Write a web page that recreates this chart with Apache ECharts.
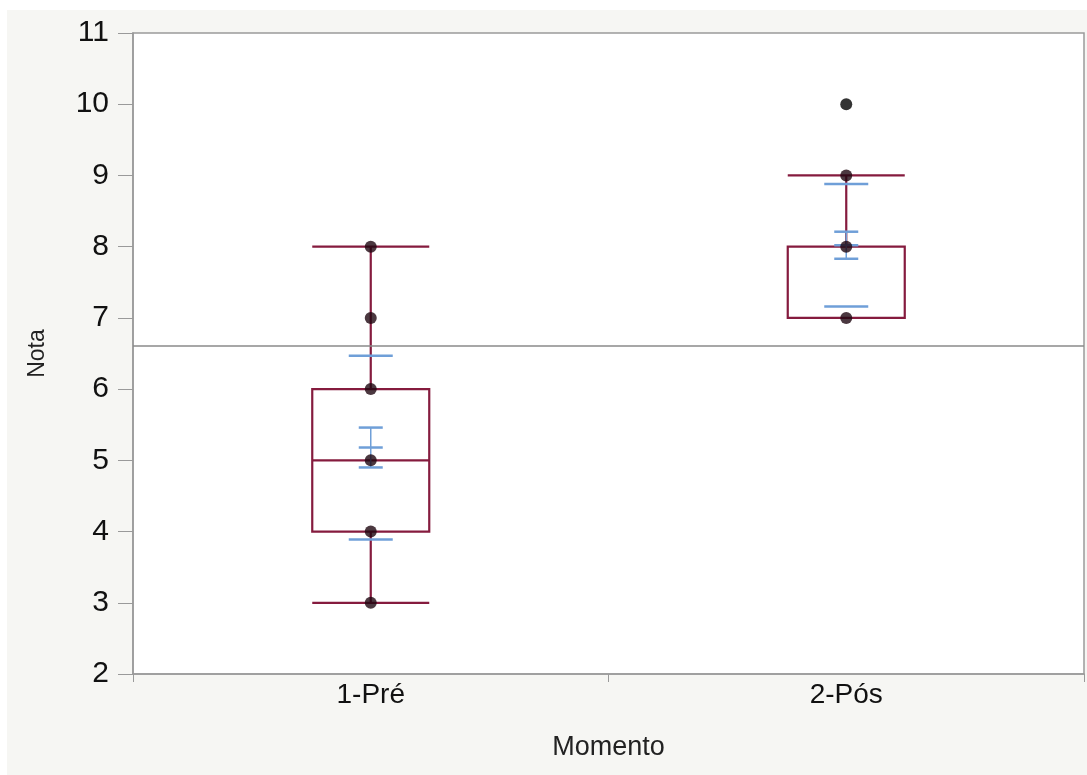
<!DOCTYPE html>
<html>
<head>
<meta charset="utf-8">
<script src="https://cdn.jsdelivr.net/npm/echarts@6/dist/echarts.min.js"></script>
<style>
html,body{margin:0;padding:0;background:#fff;}
#chart{width:1087px;height:775px;}
</style>
</head>
<body>
<div id="chart"></div>
<script>
var categories = ['1-Pré', '2-Pós'];
// [min, Q1, median, Q3, max]
var boxStats = [[3, 4, 5, 6, 8], [7, 7, 8, 8, 9]];
var pointsPre = [3, 4, 5, 6, 7, 8];
var pointsPos = [7, 8, 9];
var outliersPos = [10];
var means = [5.18, 8.02];
var stdErr = [0.28, 0.19];
var stdDev = [1.29, 0.86];
var grandMean = 6.61;
var yTicks = [2, 3, 4, 5, 6, 7, 8, 9, 10, 11];

var myChart = echarts.init(document.getElementById('chart'));

var pointData = [];
pointsPre.forEach(function (v) { pointData.push([0, v]); });
pointsPos.forEach(function (v) { pointData.push([1, v]); });
var outlierData = outliersPos.map(function (v) { return [1, v]; });

var meanData = means.map(function (m, i) {
    return [i, m, stdErr[i], stdDev[i]];
});

var boxColor = '#851b3e';
var blue = '#6f9fd8';

option = {
    backgroundColor: '#fff',
    animation: false,
    graphic: [{
        type: 'rect',
        z: -10,
        shape: {x: 7, y: 10, width: 1080, height: 765},
        style: {fill: '#f6f6f3'}
    }],
    grid: {
        left: 133, top: 33, right: 3, bottom: 101,
        show: true,
        backgroundColor: '#ffffff',
        borderColor: '#9a9a9a',
        borderWidth: 1.5
    },
    xAxis: {
        type: 'category',
        data: categories,
        name: 'Momento',
        nameLocation: 'middle',
        nameGap: 60,
        nameTextStyle: {fontFamily: 'Liberation Sans', fontSize: 27, color: '#222'},
        axisLine: {lineStyle: {color: '#9a9a9a', width: 1.5}},
        axisTick: {show: true, length: 8, lineStyle: {color: '#9a9a9a'}},
        axisLabel: {fontFamily: 'Liberation Sans', fontSize: 28, color: '#111', margin: 7}
    },
    yAxis: {
        type: 'value',
        min: 2, max: 11, interval: 1,
        name: 'Nota',
        nameLocation: 'middle',
        nameGap: 84,
        nameRotate: 90,
        nameTextStyle: {fontFamily: 'Liberation Sans', fontSize: 23, color: '#222'},
        axisLine: {show: true, lineStyle: {color: '#9a9a9a', width: 1.5}},
        axisTick: {show: true, length: 15, lineStyle: {color: '#9a9a9a'}},
        splitLine: {show: false},
        axisLabel: {
            fontFamily: 'Liberation Sans', fontSize: 30, color: '#111', margin: 24,
            formatter: function (v) { return yTicks.indexOf(v) >= 0 ? String(v) : ''; }
        }
    },
    series: [
        {
            name: 'box',
            type: 'boxplot',
            data: boxStats,
            boxWidth: [117, 117],
            itemStyle: {color: 'rgba(255,255,255,0)', borderColor: boxColor, borderWidth: 2.2},
            z: 3,
            markLine: {
                silent: true,
                symbol: ['none', 'none'],
                label: {show: false},
                lineStyle: {color: '#8a8a8a', width: 1.5, type: 'solid'},
                data: [{yAxis: grandMean}]
            }
        },
        {
            name: 'mean',
            type: 'custom',
            data: meanData,
            z: 4,
            renderItem: function (params, api) {
                var x = api.value(0), m = api.value(1), se = api.value(2), sd = api.value(3);
                var c = api.coord([x, m]);
                var top = api.coord([x, m + se])[1];
                var bot = api.coord([x, m - se])[1];
                var sdTop = api.coord([x, m + sd])[1];
                var sdBot = api.coord([x, m - sd])[1];
                var st = {stroke: blue, lineWidth: 2.5};
                function hl(y, w) {
                    return {type: 'line', shape: {x1: c[0] - w, y1: y, x2: c[0] + w, y2: y}, style: st};
                }
                return {
                    type: 'group',
                    children: [
                        {type: 'line', shape: {x1: c[0], y1: top, x2: c[0], y2: bot}, style: {stroke: blue, lineWidth: 1.5}},
                        hl(top, 12), hl(bot, 12), hl(c[1], 12),
                        hl(sdTop, 22), hl(sdBot, 22)
                    ]
                };
            }
        },
        {
            name: 'points',
            type: 'scatter',
            data: pointData,
            symbolSize: 12,
            itemStyle: {color: '#1e0610'},
            z: 5
        },
        {
            name: 'outliers',
            type: 'scatter',
            data: outlierData,
            symbolSize: 12,
            itemStyle: {color: '#000'},
            z: 5
        }
    ]
};
myChart.setOption(option);
</script>
</body>
</html>
